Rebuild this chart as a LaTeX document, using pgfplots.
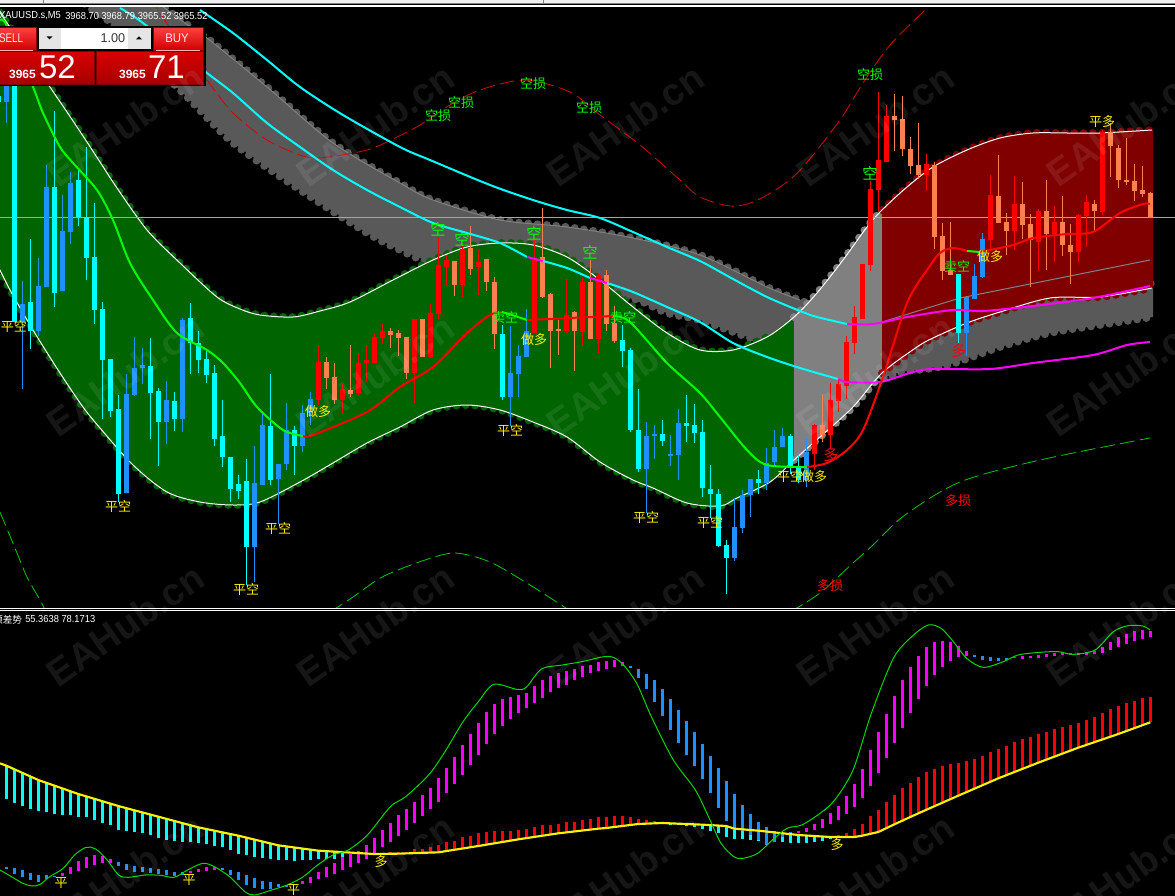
\documentclass[border=0pt]{standalone}
\usepackage{fontspec}
\usepackage{pgfplots}
\usepackage{pgfplotstable}
\pgfplotsset{compat=1.18}
\setmainfont{Liberation Sans}
\newfontfamily\cjk{Noto Sans CJK SC}
\definecolor{dg}{HTML}{006400}
\definecolor{lg}{HTML}{808080}
\definecolor{mr}{HTML}{800000}
\definecolor{bd}{HTML}{595959}
\definecolor{cya}{HTML}{00FFFF}
\definecolor{dod}{HTML}{1E90FF}
\definecolor{cor}{HTML}{FF7F50}
\definecolor{mag}{HTML}{FF00FF}
\definecolor{brg}{HTML}{00FF00}

% candles: k = bar index, wt wick top, bt body top, bb body bottom, wb wick bottom
\pgfplotstableread{
k wt bt bb wb
0 90 96 102 102
2 60 60 322 322
4 239 302 331 349
7 111 187 293 307
10 170 180 217 226
11 147 217 258 280
12 203 257 310 324
13 302 309 360 419
14 359 359 411 417
15 395 409 494 502
19 338 366 393 439
20 388 391 422 466
22 392 401 419 431
24 303 318 343 374
25 331 343 360 373
26 349 359 375 383
27 365 373 439 446
28 400 436 457 467
29 457 457 489 502
30 475 484 491 499
31 459 481 547 585
34 374 426 480 485
37 426 430 446 475
63 325 334 397 400
78 325 340 351 367
79 348 350 430 432
80 389 430 469 472
83 420 434 441 446
86 395 423 426 442
87 404 425 433 443
88 420 432 488 497
89 465 489 494 518
90 489 494 546 547
91 540 545 558 594
95 470 479 483 494
99 434 436 466 474
100 455 466 480 483
120 274 274 333 344
}\tC
\pgfplotstableread{
k wt bt bb wb
1 80 85 102 123
3 281 304 322 389
5 258 286 331 336
6 165 187 287 287
8 195 231 291 291
9 172 183 232 244
16 374 394 493 493
17 337 368 395 396
18 348 365 368 384
21 381 400 422 444
23 318 320 419 432
32 446 483 547 582
33 413 425 485 485
35 464 464 479 524
36 403 430 464 470
38 405 413 446 452
39 392 399 413 425
64 326 373 397 426
65 345 356 374 397
66 309 331 357 357
81 422 436 469 513
82 425 434 436 459
84 435 454 456 466
85 409 423 455 480
92 498 527 558 561
93 490 495 528 533
94 479 479 495 517
96 448 463 483 490
97 430 447 462 465
98 428 436 447 447
101 438 452 480 487
121 297 297 333 356
122 264 276 299 299
123 233 239 277 278
}\tD
\pgfplotstableread{
k wt bt bb wb
40 345 362 400 405
43 384 389 400 414
45 353 363 393 396
46 345 360 363 381
47 334 337 363 363
48 324 331 338 344
52 319 319 373 403
54 304 313 357 358
55 237 265 314 319
56 256 260 267 285
58 245 249 285 297
60 250 262 267 295
67 240 260 333 333
71 279 315 331 333
73 278 282 332 346
75 274 275 339 353
102 424 425 454 470
104 383 400 435 449
105 380 384 401 412
106 336 342 386 399
107 306 317 343 354
108 264 264 319 319
109 181 189 265 271
110 92 160 190 212
111 105 116 162 162
116 154 164 175 191
124 175 195 240 251
127 176 204 231 250
130 209 211 242 271
132 206 222 234 262
135 214 215 252 262
136 195 202 216 247
138 130 132 212 215
}\tR
\pgfplotstableread{
k wt bt bb wb
41 357 362 378 389
42 363 377 400 404
44 345 390 394 397
49 328 331 335 348
50 330 333 338 356
51 337 337 373 379
53 319 319 357 357
57 261 261 285 296
59 226 248 269 275
61 259 259 282 291
62 277 282 334 349
68 208 257 297 298
69 293 294 331 368
70 320 329 331 355
72 311 312 331 371
74 260 282 339 339
76 270 275 324 331
77 306 323 341 343
103 394 425 435 442
112 94 116 120 151
113 96 119 149 156
114 137 149 166 174
115 123 165 175 179
117 162 165 237 249
118 223 236 271 280
119 222 270 275 275
125 155 196 223 223
126 213 222 231 255
128 182 204 225 239
129 214 224 240 287
131 180 211 234 270
133 196 222 245 256
134 224 245 252 284
137 200 204 211 230
139 123 132 146 177
140 145 148 180 188
141 138 180 182 185
142 164 181 191 201
143 166 190 194 197
144 192 193 218 218
}\tK

% channel curves
\pgfplotstableread{
x y
-5 5
50 87
67 112
83 136
100 162
117 188
147 230
180 263
217 297
240 309
260 315
293 317
320 311
350 302
393 280
433 260
467 247
500 243
533 245
567 257
600 280
633 307
667 333
700 350
733 350
767 337
794 317
817 293
843 260
867 227
882 210
907 187
933 167
967 150
1000 138
1033 133
1067 133
1100 133
1152 130
}\tU
\pgfplotstableread{
x y
-5 260
10 290
33 330
60 373
83 407
100 428
133 465
167 492
200 502
233 505
260 502
300 482
333 463
367 443
400 427
433 410
467 405
500 410
533 422
567 437
600 462
633 480
653 488
687 503
720 506
737 498
770 482
794 460
820 437
853 407
882 373
917 347
933 338
967 323
1000 312
1050 298
1100 297
1152 288
}\tL
\pgfplotstableread{
x y
150 -3
185 23
207 38
267 87
333 143
400 183
433 200
500 220
567 227
633 238
700 255
767 287
800 300
882 325
1153 283
}\tUb
\pgfplotstableread{
x y
70 -8
90 8
113 25
183 93
233 143
300 190
367 233
400 250
433 263
540 285
627 297
667 313
700 320
733 332
757 340
800 350
843 368
882 378
900 372
945 366
1000 347
1050 333
1100 325
1153 317
}\tLb

% indicator bars (y in reading units, pixel = 600 + z/3)
\pgfplotstableread{
k t b
1 497 597
2 508 608
3 520 617
4 530 627
5 540 633
6 548 636
7 558 642
8 568 644
9 573 645
10 582 650
11 590 651
12 597 660
13 603 668
14 610 675
15 618 690
16 625 693
17 630 695
18 638 700
19 645 706
20 650 714
21 656 720
22 662 722
23 670 725
24 675 727
25 682 728
26 685 732
27 690 737
28 695 742
29 700 750
30 707 762
31 713 765
32 720 770
33 725 774
34 730 778
35 736 780
36 740 780
37 742 782
38 747 780
39 750 779
40 752 778
41 753 778
42 755 777
43 756 773
84 668 675
85 668 675
86 669 678
87 672 682
88 674 687
89 675 693
90 675 700
91 678 712
92 685 717
93 690 718
94 692 720
95 692 722
96 695 722
97 698 725
98 700 725
99 702 728
100 705 729
101 706 728
102 710 726
103 710 722
104 711 717
}\tAc
\pgfplotstableread{
k t b
48 758 762
49 757 762
50 755 761
51 755 760
52 748 760
53 746 759
54 742 758
55 735 757
56 725 752
57 722 750
58 712 747
59 708 742
60 700 738
61 696 735
62 694 730
63 694 727
64 692 723
65 690 718
66 688 713
67 682 710
68 676 705
69 676 703
70 672 700
71 665 697
72 665 693
73 660 690
74 656 688
75 652 686
76 651 684
77 648 681
78 648 678
79 652 675
80 658 672
81 661 669
82 664 669
83 665 669
105 705 711
106 698 711
107 686 711
108 672 707
109 648 700
110 630 696
111 606 686
112 585 673
113 564 665
114 549 653
115 531 640
116 516 630
117 507 618
118 498 605
119 491 597
120 490 587
121 483 578
122 477 568
123 467 553
124 456 545
125 447 535
126 438 525
127 426 517
128 417 507
129 412 497
130 403 488
131 396 478
132 387 470
133 380 460
134 376 450
135 369 443
136 360 436
137 351 428
138 339 418
139 327 410
140 318 402
141 309 394
142 303 385
143 294 378
144 291 367
}\tAr
\pgfplotstableread{
k t b
1 802 806
2 805 822
3 810 830
4 820 840
5 825 846
6 826 838
7 828 832
15 786 798
16 793 810
17 797 815
18 800 817
19 804 820
20 807 822
21 810 824
22 816 829
23 815 825
28 804 811
29 810 825
30 816 840
31 825 855
32 833 863
33 843 868
34 847 867
35 852 862
36 854 860
79 198 204
80 207 234
81 222 267
82 240 306
83 267 348
84 297 390
85 330 429
86 363 465
87 396 498
88 432 537
89 468 579
90 504 624
91 543 663
92 582 690
93 615 693
94 642 705
95 666 720
96 681 735
97 693 726
98 696 710
99 697 700
122 165 171
123 168 180
124 171 183
125 174 183
126 174 180
}\tBb
\pgfplotstableread{
k t b
8 820 828
9 802 822
10 783 813
11 771 803
12 766 795
13 768 790
14 778 788
24 813 820
25 806 816
26 800 813
27 800 810
38 843 852
39 832 850
40 816 838
41 800 832
42 790 822
43 770 810
44 762 802
45 752 790
46 735 778
47 714 760
48 690 740
49 668 726
50 645 708
51 628 690
52 606 668
53 585 648
54 565 628
55 534 605
56 504 580
57 472 552
58 435 524
59 402 495
60 369 465
61 336 432
62 312 402
63 298 377
64 291 358
65 285 340
66 279 325
67 258 310
68 240 294
69 228 276
70 219 264
71 214 254
72 208 240
73 198 230
74 195 220
75 186 214
76 183 207
77 180 201
78 186 198
100 693 699
101 684 696
102 672 690
103 657 684
104 640 672
105 618 660
106 588 642
107 552 621
108 507 594
109 450 558
110 396 519
111 342 474
112 288 429
113 240 384
114 201 339
115 168 297
116 141 258
117 126 225
118 123 201
119 126 183
120 138 171
121 153 168
127 171 174
128 168 177
129 168 174
130 165 174
131 162 171
132 159 168
133 156 165
134 159 165
135 159 165
136 156 165
137 153 162
138 141 159
139 126 150
140 111 141
141 102 132
142 93 123
143 90 117
144 93 111
}\tBm

\pgfplotsset{pane/.style={scale only axis,width=881.25pt,xmin=0,xmax=1175,y dir=reverse,
  ticks=none,axis line style={draw=none},anchor=south west},
  scallop/.style={smooth,line width=6pt,line cap=round,dash pattern=on 0pt off 7pt,forget plot}}
\newcommand\vbars[5]{\addplot[draw=none,mark=none,forget plot,
  error bars/.cd,y dir=plus,y explicit,error mark=none,
  error bar style={draw=#2,line width=#3,solid}]
  table[x expr=8*\thisrow{k}-1.7,y=#4,y error plus expr=\thisrow{#5}-\thisrow{#4}] {#1};}
\newcommand\candles[2]{\vbars{#1}{#2}{0.75pt}{wt}{wb}\vbars{#1}{#2}{3.75pt}{bt}{bb}}
\newcommand\lab[4]{\node[text=#3,inner sep=0pt,font=\cjk\fontsize{9.75}{10}\selectfont] at (#1,#2) {#4};}
\newcommand\blab[4]{\node[text=#3,inner sep=0pt,font=\cjk\fontsize{11.5}{12}\selectfont] at (#1,#2) {#4};}
\newcommand\qtext[2]{\node[anchor=west,inner sep=0pt,text=white,font=\fontsize{7.6}{8}\selectfont] at (#1,15.7) {\scalebox{.92}[1]{#2}};}
\newcommand\edge[1]{%
\addplot[scallop,draw=dg,restrict x to domain=-5:790] table {#1};
\addplot[scallop,draw=lg,restrict x to domain=794:882] table {#1};
\addplot[scallop,draw=mr,restrict x to domain=882:1152] table {#1};
\addplot[smooth,draw=white,line width=0.75pt,forget plot] table {#1};}

\begin{document}
\begin{tikzpicture}
\useasboundingbox (0,0) rectangle (881.25pt,672pt);
\fill[black] (0,0) rectangle (881.25pt,672pt);

% ---------- price pane
\begin{axis}[pane,at={(0pt,216.75pt)},height=450pt,ymin=7,ymax=607,clip=true]
% grey band
\addplot[fill=bd,draw=none,forget plot] coordinates {(150,-3)(185,23)(207,38)(267,87)(333,143)(400,183)(433,200)(500,220)(567,227)(633,238)(700,255)(767,287)(800,300)(882,325)(1153,283)(1153,317)(1100,325)(1050,333)(1000,347)(945,366)(900,372)(882,378)(843,368)(800,350)(757,340)(733,332)(700,320)(667,313)(627,297)(540,285)(433,263)(400,250)(367,233)(300,190)(233,143)(183,93)(113,25)(90,8)(70,-8)} --cycle;
\addplot[scallop,draw=bd] table {\tUb};
\addplot[scallop,draw=bd] table {\tLb};
\addplot[smooth,draw=lg,line width=0.75pt,forget plot,restrict x to domain=0:820] table {\tUb};
% channel fills
\addplot[fill=dg,draw=none,forget plot] coordinates {(-5,5)(50,87)(67,112)(83,136)(100,162)(117,188)(147,230)(180,263)(217,297)(240,309)(260,315)(293,317)(320,311)(350,302)(393,280)(433,260)(467,247)(500,243)(533,245)(567,257)(600,280)(633,307)(667,333)(700,350)(733,350)(767,337)(794,317)(794,460)(770,482)(737,498)(720,506)(687,503)(653,488)(633,480)(600,462)(567,437)(533,422)(500,410)(467,405)(433,410)(400,427)(367,443)(333,463)(300,482)(260,502)(233,505)(200,502)(167,492)(133,465)(100,428)(83,407)(60,373)(33,330)(10,290)(-5,260)} --cycle;
\addplot[fill=lg,draw=none,forget plot] coordinates {(794,317)(817,293)(843,260)(867,227)(882,210)(882,373)(853,407)(820,437)(794,460)} --cycle;
\addplot[fill=mr,draw=none,forget plot] coordinates {(882,210)(907,187)(933,167)(967,150)(1000,138)(1033,133)(1067,133)(1100,133)(1153,130)(1153,288)(1100,297)(1050,298)(1000,312)(967,323)(933,338)(917,347)(882,373)} --cycle;
% scalloped edges
\edge{\tU}
\edge{\tL}
\addplot[draw=lg,line width=0.75pt,forget plot] coordinates {(882,322)(960,298)(1150,260)};
% stop lines
\addplot[smooth,draw=red!85!black,line width=0.6pt,dash pattern=on 11pt off 4pt,forget plot] coordinates {(150,-3)(168,25)(207,80)(233,113)(267,140)(300,155)(320,158)(367,150)(397,137)(420,125)(450,105)(480,90)(525,80)(570,92)(600,115)(640,145)(680,180)(700,197)(730,206)(753,202)(780,187)(803,167)(840,120)(863,83)(890,45)(925,10)(935,0)};
\addplot[smooth,draw=brg!80!black,line width=0.6pt,dash pattern=on 11pt off 4pt,forget plot] coordinates {(0,512)(17,553)(27,577)(40,600)(46,612)};
\addplot[smooth,draw=brg!80!black,line width=0.6pt,dash pattern=on 11pt off 4pt,forget plot] coordinates {(330,612)(353,597)(377,580)(393,572)(425,560)(455,553)(490,562)(530,585)(572,612)};
\addplot[smooth,draw=brg!80!black,line width=0.6pt,dash pattern=on 11pt off 4pt,forget plot] coordinates {(790,612)(820,593)(853,563)(873,545)(905,515)(960,482)(1040,460)(1150,438)};
% bid line
\addplot[draw=white!65!black,line width=0.75pt,forget plot] coordinates {(0,217)(1175,217)};
% candles
\candles{\tC}{cya}
\candles{\tD}{dod}
\candles{\tR}{red}
\candles{\tK}{cor}
% moving averages
\addplot[smooth,draw=cya,line width=1.5pt,forget plot] coordinates {(200,10)(233,33)(267,60)(300,87)(343,115)(400,147)(430,160)(490,185)(533,200)(567,210)(600,218)(633,232)(667,247)(700,261)(733,279)(767,297)(800,311)(817,317)(847,324)};
\addplot[smooth,draw=mag,line width=1.5pt,forget plot] coordinates {(847,324)(873,324)(907,317)(953,310)(983,311)(1033,306)(1093,298)(1150,286)};
\addplot[smooth,draw=cya,line width=1.5pt,forget plot] coordinates {(120,8)(143,23)(207,73)(233,93)(267,123)(300,147)(333,170)(367,190)(400,207)(433,223)(467,233)(500,243)(527,257)};
\addplot[draw=mag,line width=1.5pt,forget plot] coordinates {(527,257)(543,261)};
\addplot[smooth,draw=cya,line width=1.5pt,forget plot] coordinates {(543,261)(567,268)(590,278)};
\addplot[draw=mag,line width=1.5pt,forget plot] coordinates {(590,278)(607,283)};
\addplot[smooth,draw=cya,line width=1.5pt,forget plot] coordinates {(607,283)(633,292)(667,307)(700,322)(733,343)(767,357)(800,368)(838,379)};
\addplot[smooth,draw=mag,line width=1.5pt,forget plot] coordinates {(838,379)(847,382)(880,382)(913,372)(933,369)(990,369)(1033,363)(1093,355)(1127,345)(1150,342)};
% trend line
\addplot[smooth,draw=brg,line width=1.5pt,forget plot] coordinates {(0,20)(7,26)(33,87)(43,113)(60,147)(73,163)(97,190)(113,220)(130,263)(153,300)(177,333)(207,350)(223,363)(240,383)(257,407)(283,430)(303,436)};
\addplot[smooth,draw=red,line width=1.5pt,forget plot] coordinates {(303,436)(313,435)(367,412)(400,387)(433,367)(467,333)(490,315)(502,312)};
\addplot[smooth,draw=brg,line width=1.5pt,forget plot] coordinates {(502,312)(515,316)(527,320)};
\addplot[smooth,draw=red,line width=1.5pt,forget plot] coordinates {(527,320)(570,318)(613,316)};
\addplot[smooth,draw=brg,line width=1.5pt,forget plot] coordinates {(613,316)(630,322)(667,363)(700,393)(720,417)(747,450)(767,465)(807,467)};
\addplot[smooth,draw=red,line width=1.5pt,forget plot] coordinates {(807,467)(827,463)(847,450)(863,430)(883,377)(907,303)(927,270)(940,253)(953,248)(967,251)};
\addplot[draw=brg,line width=1.5pt,forget plot] coordinates {(967,251)(980,252)};
\addplot[smooth,draw=red,line width=1.5pt,forget plot] coordinates {(980,252)(1013,245)(1033,238)(1067,234)(1093,232)(1120,213)(1143,204)(1150,204)};
\end{axis}

% ---------- indicator pane
\begin{axis}[pane,at={(0pt,0pt)},height=214.125pt,ymin=31.5,ymax=888,clip=true]
\vbars{\tAc}{cya}{1.9pt}{t}{b}
\vbars{\tAr}{red}{1.9pt}{t}{b}
\vbars{\tBb}{dod}{1.9pt}{t}{b}
\vbars{\tBm}{mag}{1.9pt}{t}{b}
\addplot[draw=yellow,line width=1.6pt,forget plot] table[x expr={max(0,8*\thisrow{k}-1.7)},y=z] {
k z
0 490
1 497
5 540
10 582
15 618
20 650
25 682
30 707
35 736
40 752
47 762
50 761
55 757
60 738
65 718
70 700
75 686
76 684
80 672
83 669
88 674
91 678
92 686
95 692
100 705
104 711
107 711
108 707
110 696
112 673
115 640
120 587
125 535
130 488
135 443
140 402
144 367
};
\addplot[draw=brg!85!black,line width=0.75pt,smooth,forget plot] table[x expr=\thisrow{zx}/2.613,y=z] {
zx z
0 810
30 830
60 850
85 858
105 853
130 830
165 805
195 765
225 742
250 747
280 780
310 825
335 832
380 825
420 826
455 832
490 810
530 790
560 800
600 830
640 875
665 885
710 870
750 855
790 832
830 795
870 765
910 750
960 705
1020 620
1060 590
1120 525
1160 460
1210 365
1250 305
1290 253
1350 268
1375 262
1415 207
1470 195
1520 185
1568 172
};
\addplot[draw=brg!85!black,line width=0.75pt,smooth,forget plot] table[x expr=600+\thisrow{zx}/2.727,y=z] {
zx z
0 172
30 170
60 190
100 250
140 350
200 480
260 570
300 660
330 730
365 770
390 775
430 760
470 720
510 685
550 675
600 640
640 600
690 510
740 340
800 175
850 110
895 75
930 85
960 120
1000 175
1045 202
1100 185
1140 165
1200 157
1250 155
1290 163
1350 150
1400 95
1440 77
1480 78
1500 90
};
\end{axis}

% ---------- window furniture, texts, panel (pixel coordinates)
\begin{scope}[x=0.75pt,y=-0.75pt,yshift=672pt]
\fill[white!94!black] (0,0) rectangle (1175,3);
\fill[lg] (0,3) rectangle (1175,3.7);
\fill[lg] (42.5,0) rectangle (43.5,3);\fill[lg] (543,0) rectangle (544,3);
\fill[black] (0,3.7) rectangle (1175,5);
\fill[white] (0,5) rectangle (1175,7);
\fill[white] (0,607.6) rectangle (1175,608.8);
\fill[white] (0,609.7) rectangle (1175,610.9);

\lab{14}{327}{yellow}{平空}\lab{118}{507}{yellow}{平空}\lab{246}{590}{yellow}{平空}
\lab{278}{529}{yellow}{平空}\lab{510}{431}{yellow}{平空}\lab{646}{518}{yellow}{平空}
\lab{710}{523}{yellow}{平空}\lab{790}{477}{yellow}{平空}
\lab{318}{412}{yellow}{做多}\lab{534}{340}{yellow}{做多}\lab{814}{477}{yellow}{做多}\lab{990}{257}{yellow}{做多}
\lab{1102}{122}{yellow}{平多}
\lab{438}{116}{brg}{空损}\lab{461}{103}{brg}{空损}\lab{533}{84}{brg}{空损}\lab{589}{108}{brg}{空损}\lab{870}{75}{brg}{空损}
\blab{438}{229}{brg}{空}\blab{462}{239}{brg}{空}\blab{534}{233}{brg}{空}\blab{590}{252}{brg}{空}\blab{870}{173}{brg}{空}
\lab{505}{318}{brg}{卖空}\lab{623}{318}{brg}{卖空}\lab{957}{267}{brg}{卖空}
\blab{831}{455}{red}{多}\blab{959}{351}{red}{多}
\lab{958}{501}{red}{多损}\lab{830}{586}{red}{多损}
\lab{61}{883}{yellow}{平}\lab{189}{880}{yellow}{平}\lab{293.5}{890}{yellow}{平}
\lab{381}{862}{yellow}{多}\lab{837}{845}{yellow}{多}

% indicator caption
\node[anchor=west,inner sep=0pt,text=white,font=\cjk\fontsize{7.2}{8}\selectfont] at (-7,619.5) {顺差势};
\node[anchor=west,inner sep=0pt,text=white,font=\fontsize{7.6}{8}\selectfont] at (25,619.5) {\scalebox{.92}[1]{55.3638 78.1713}};

% quote line
\qtext{-1}{XAUUSD.s,M5}
\qtext{65}{3968.70}
\qtext{101}{3968.79}
\qtext{137.5}{3965.52}
\qtext{173.5}{3965.52}

% one-click panel
\fill[black] (-1,26) rectangle (206,86);
\shade[top color=red!75!white,bottom color=red!80!black,draw=mr] (-2,27.5) rectangle (36,50.5);
\shade[top color=red!75!white,bottom color=red!80!black,draw=mr] (153,27.5) rectangle (203,50.5);
\shade[top color=red!85!black,bottom color=red!65!black,draw=mr] (-2,51.5) rectangle (94,84);
\shade[top color=red!85!black,bottom color=red!65!black,draw=mr] (96,51.5) rectangle (203.5,84);
\fill[white!90!black] (39,28) rectangle (151,49);
\fill[white] (60.5,28) rectangle (128,49);
\fill[black] (46.5,36.5) -- (52.5,36.5) -- (49.5,39.5) -- cycle;
\fill[black] (136,39.5) -- (142,39.5) -- (139,36.5) -- cycle;
\draw[red!30!white,line width=0.5pt] (0,50.5) -- (33,50.5) (156,50.5) -- (200,50.5);
\node[anchor=east,inner sep=0pt,text=white!90!red,font=\fontsize{9.5}{10}\selectfont] at (23.5,38.5) {\scalebox{.78}[1]{SELL}};
\node[inner sep=0pt,text=white!90!red,font=\fontsize{9.5}{10}\selectfont] at (177,38.5) {\scalebox{.9}[1]{BUY}};
\node[anchor=east,inner sep=0pt,text=black!80,font=\fontsize{9.5}{10}\selectfont] at (125.5,38) {1.00};
\node[inner sep=0pt,text=white,font=\bfseries\fontsize{9}{10}\selectfont] at (22.5,74.5) {3965};
\node[inner sep=0pt,text=white,font=\bfseries\fontsize{9}{10}\selectfont] at (132.5,74.5) {3965};
\node[inner sep=0pt,text=white,font=\fontsize{24.75}{26}\selectfont] at (57.5,67) {52};
\node[inner sep=0pt,text=white,font=\fontsize{24.75}{26}\selectfont] at (166.5,67) {71};

% watermark
\foreach \wx in {125,375,625,875,1125}{\foreach \wy in {125,375,625,875}{
  \node[rotate=35,inner sep=0pt,text=white,text opacity=0.085,font=\bfseries\fontsize{28.5}{30}\selectfont] at (\wx,\wy) {EAHub.cn};
}}
\end{scope}
\end{tikzpicture}
\end{document}
